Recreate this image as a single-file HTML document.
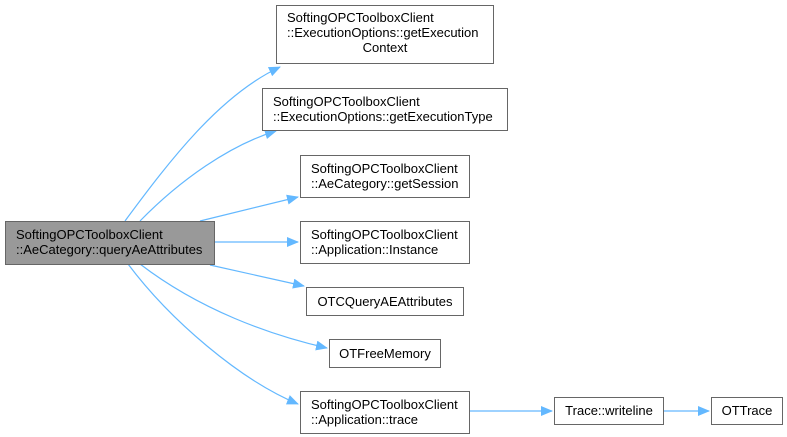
<!DOCTYPE html>
<html><head><meta charset="utf-8"><style>
html,body{margin:0;padding:0;background:#fff;width:787px;height:437px;overflow:hidden}
text{font-family:"Liberation Sans",Arial,sans-serif;font-size:13px;fill:#000}
</style></head><body>
<svg width="787" height="437" viewBox="0 0 787 437" xmlns="http://www.w3.org/2000/svg">
<defs><marker id="a" markerWidth="12" markerHeight="10" refX="11" refY="5" orient="auto" markerUnits="userSpaceOnUse"><path d="M0,0 L12,5 L0,10 z" fill="#63b8ff"/></marker></defs>
<g fill="none" stroke="#63b8ff" stroke-width="1.2" marker-end="url(#a)">
<path d="M125,221 C170,160 220,95 280,67"/>
<path d="M140,221 C180,180 230,145 276,131"/>
<path d="M200,221 L298,197"/>
<path d="M214,242 L298,242"/>
<path d="M210,265 L304,286"/>
<path d="M140,264 C200,310 270,335 327,348"/>
<path d="M128,264 C170,320 240,380 298,404"/>
<path d="M469,411 L552,411"/>
<path d="M663,411 L709,411"/>
</g>
<g stroke="#666" stroke-width="1" fill="#fff">
<rect x="5.5" y="221.5" width="209" height="43" fill="#999"/>
<rect x="276.5" y="5.5" width="217" height="58"/>
<rect x="262.5" y="88.5" width="245" height="42"/>
<rect x="300.5" y="155.5" width="169" height="42"/>
<rect x="300.5" y="221.5" width="169" height="42"/>
<rect x="306.5" y="287.5" width="157" height="28"/>
<rect x="329.5" y="339.5" width="111" height="28"/>
<rect x="300.5" y="391.5" width="169" height="42"/>
<rect x="554.5" y="397.5" width="109" height="27"/>
<rect x="711.5" y="397.5" width="71" height="27"/>
</g>
<text x="16" y="239">SoftingOPCToolboxClient</text>
<text x="16" y="254">::AeCategory::queryAeAttributes</text>
<text x="287" y="22">SoftingOPCToolboxClient</text>
<text x="287" y="37">::ExecutionOptions::getExecution</text>
<text x="385" y="52" text-anchor="middle">Context</text>
<text x="273" y="106">SoftingOPCToolboxClient</text>
<text x="273" y="121">::ExecutionOptions::getExecutionType</text>
<text x="311" y="173">SoftingOPCToolboxClient</text>
<text x="311" y="188">::AeCategory::getSession</text>
<text x="311" y="239">SoftingOPCToolboxClient</text>
<text x="311" y="254">::Application::Instance</text>
<text x="385" y="306" text-anchor="middle">OTCQueryAEAttributes</text>
<text x="385" y="358" text-anchor="middle">OTFreeMemory</text>
<text x="311" y="409">SoftingOPCToolboxClient</text>
<text x="311" y="424">::Application::trace</text>
<text x="609" y="415" text-anchor="middle">Trace::writeline</text>
<text x="747" y="415" text-anchor="middle">OTTrace</text>
</svg>
</body></html>
